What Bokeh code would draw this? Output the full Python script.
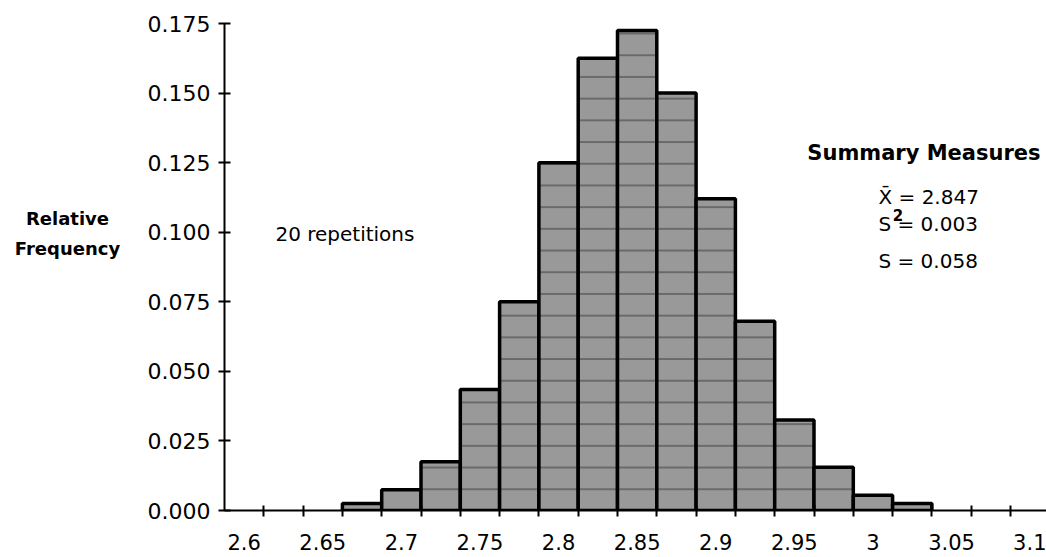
from bokeh.plotting import figure
from bokeh.layouts import row
from bokeh.models import FixedTicker, NumeralTickFormatter, Label, Range1d, ColumnDataSource
from bokeh.core.properties import value
from bokeh.embed import file_html
from bokeh.resources import INLINE

# Histogram of the simulated sample means (20 repetitions)
bin_centers = [2.675, 2.700, 2.725, 2.750, 2.775, 2.800, 2.825, 2.850,
               2.875, 2.900, 2.925, 2.950, 2.975, 3.000, 3.025]
rel_freq = [0.0025, 0.0075, 0.0175, 0.0435, 0.0750, 0.1250, 0.1625, 0.1725,
            0.1500, 0.1120, 0.0680, 0.0325, 0.0155, 0.0055, 0.0025]
bin_width = 0.025

# Axis ticks and labels
x_label_pos = [2.6, 2.65, 2.7, 2.75, 2.8, 2.85, 2.9, 2.95, 3.0, 3.05, 3.1]
x_label_txt = ["2.6", "2.65", "2.7", "2.75", "2.8", "2.85", "2.9", "2.95", "3", "3.05", "3.1"]
x_bin_edges = [2.6125, 2.6375, 2.6625, 2.6875, 2.7125, 2.7375, 2.7625, 2.7875,
               2.8125, 2.8375, 2.8625, 2.8875, 2.9125, 2.9375, 2.9625, 2.9875,
               3.0125, 3.0375, 3.0625, 3.0875]
y_ticks = [0.0, 0.025, 0.05, 0.075, 0.1, 0.125, 0.15, 0.175]
y_title = ["Relative", "Frequency"]

# Summary statistics shown at the right
mean_txt = "2.847"
var_txt = "0.003"
sd_txt = "0.058"

FONT = "DejaVu Sans"
TOTAL_W, TOTAL_H = 1046, 557
TITLE_W = 130

# ---- narrow panel holding the horizontal y-axis title ----
t = figure(width=TITLE_W, height=TOTAL_H, output_backend="svg", toolbar_location=None,
           x_range=Range1d(0, TITLE_W), y_range=Range1d(TOTAL_H, 0),
           min_border=0)
t.axis.visible = False
t.grid.visible = False
t.outline_line_color = None
t.text(x=[67, 67], y=[223, 257], text=y_title,
       text_font=value(FONT), text_font_size="18px", text_font_style="bold",
       text_align="center", text_baseline="middle", text_color="black")

# ---- histogram ----
src = ColumnDataSource(dict(
    left=[c - bin_width / 2 for c in bin_centers],
    right=[c + bin_width / 2 for c in bin_centers],
    top=rel_freq,
    bottom=[0.0] * len(rel_freq),
))

p = figure(width=TOTAL_W - TITLE_W, height=TOTAL_H, output_backend="svg", toolbar_location=None,
           x_range=Range1d(2.5875, 3.1104), y_range=Range1d(0.0, 0.175),
           min_border_left=224 - TITLE_W, min_border_right=0,
           min_border_top=23, min_border_bottom=47)
p.outline_line_color = None
p.xgrid.visible = False
p.ygrid.visible = False

# stippled grey bars with faint horizontal rules and a heavy black outline
p.quad(left="left", right="right", top="top", bottom="bottom", source=src,
       fill_color="#999999", line_color="black", line_width=3.5,
       hatch_pattern="horizontal_line", hatch_scale=21.7, hatch_weight=1.3,
       hatch_color="#2a2a2a", hatch_alpha=0.65)

xa = p.xaxis[0]
xa.ticker = FixedTicker(ticks=x_label_pos, minor_ticks=x_bin_edges)
xa.major_label_overrides = {v: s for v, s in zip(x_label_pos, x_label_txt)}
xa.major_tick_in = 0
xa.major_tick_out = 0
xa.minor_tick_in = 5
xa.minor_tick_out = 6
xa.minor_tick_line_width = 2
xa.minor_tick_line_color = "black"
xa.axis_line_width = 2
xa.axis_line_color = "black"
xa.major_label_standoff = 17
xa.major_label_text_font = FONT
xa.major_label_text_font_size = "21px"
xa.major_label_text_color = "black"

ya = p.yaxis[0]
ya.ticker = FixedTicker(ticks=y_ticks)
ya.formatter = NumeralTickFormatter(format="0.000")
ya.major_tick_in = 6
ya.major_tick_out = 6
ya.major_tick_line_width = 2
ya.major_tick_line_color = "black"
ya.minor_tick_line_color = None
ya.axis_line_width = 2
ya.axis_line_color = "black"
ya.major_label_standoff = 8
ya.major_label_text_font = FONT
ya.major_label_text_font_size = "22px"
ya.major_label_text_color = "black"


def add_text(x, y, text, size, bold=False, align="left"):
    p.add_layout(Label(x=x, y=y, text=text, text_font=FONT,
                       text_font_size=size, text_font_style="bold" if bold else "normal",
                       text_align=align, text_baseline="middle", text_color="black"))


add_text(2.6199, 0.0995, "20 repetitions", "20px")

add_text(3.1066, 0.1283, "Summary Measures", "21px", bold=True, align="right")
add_text(3.0035, 0.1125, "X\u0304 = " + mean_txt, "20px")
add_text(3.0035, 0.1031, "S = " + var_txt, "20px")
add_text(3.0126, 0.1063, "2", "15px", bold=True)
add_text(3.0035, 0.0898, "S = " + sd_txt, "20px")

open("out.html", "w").write(file_html(row(t, p), INLINE))
